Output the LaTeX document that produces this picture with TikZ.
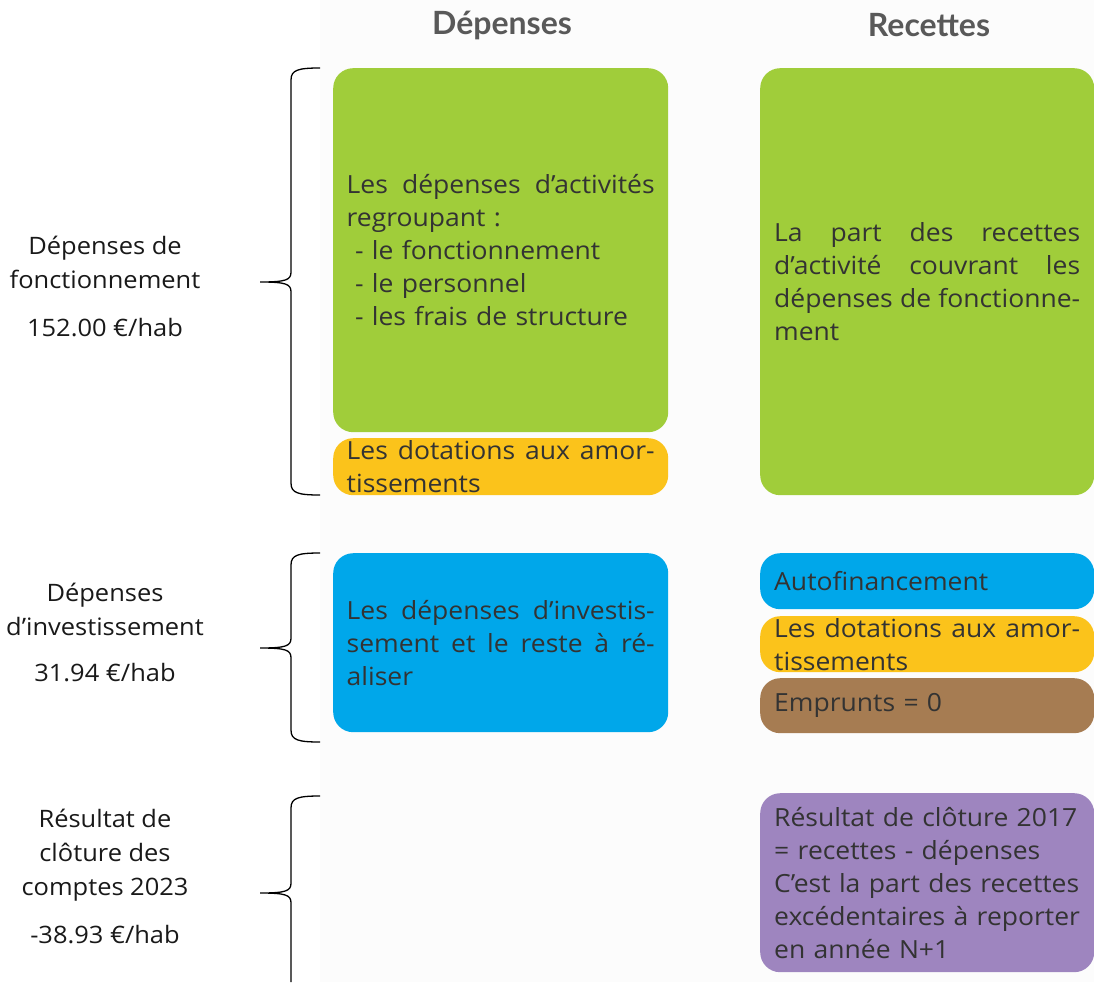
\documentclass[tikz,border=0pt]{standalone}
\usepackage{fontspec}
\setmainfont[FakeStretch=1.06]{Open Sans}
\newfontfamily\headfont{Lato}
\definecolor{cgreen}{HTML}{A0CD3A}
\definecolor{cyellow}{HTML}{FBC31B}
\definecolor{cblue}{HTML}{00A7EA}
\definecolor{cbrown}{HTML}{A67C52}
\definecolor{cpurple}{HTML}{9E85BF}
\definecolor{ctext}{HTML}{333333}
\definecolor{chead}{HTML}{595959}
\definecolor{cpanel}{HTML}{FCFCFC}
\newcommand\jl[2][308pt]{\makebox[#1][s]{\spaceskip=0pt\xspaceskip=0pt #2}}
\newcommand\nl[1]{\mbox{#1}}
\tikzset{
  box/.style={rounded corners=20pt, inner xsep=13.5pt, inner ysep=0pt, text width=308pt,
    align=left, text=ctext, font=\fontsize{25}{33}\selectfont, anchor=north west},
  rbox/.style={box, inner xsep=14pt, text width=306pt, minimum width=334pt},
  head/.style={text=chead, font=\headfont\bfseries\fontsize{32}{36}\selectfont},
  lab/.style={align=center, text=black!90, font=\fontsize{24}{34}\selectfont},
  brace/.style={line width=1.3pt, black},
}
\newcommand\brc[3]{\draw[brace] (320,#1) .. controls (298,#1) and (291,#1+2) .. (291,#1+12) -- (291,#2-10) .. controls (291,#2-2) and (286,#2) .. (260,#2) .. controls (286,#2) and (291,#2+2) .. (291,#2+10) -- (291,#3-12) .. controls (291,#3-2) and (298,#3) .. (320,#3);}
\begin{document}
\begin{tikzpicture}[x=1pt,y=-1pt]
\useasboundingbox (0,0) rectangle (1094,982);
\fill[cpanel] (320,0) rectangle (1094,982);
% headers
\node[head] (hd) at (502,25) {Dépenses};
\node[head] (hr) at (929,25) {Recettes};
% left column boxes
\node[box, fill=cgreen, minimum width=335pt, minimum height=364pt] (g1) at (333,68)
  {\jl{Les dépenses d’activités}\\ \nl{regroupant :}\\ \nl{\ - le fonctionnement}\\ \nl{\ - le personnel}\\ \nl{\ - les frais de structure}};
\node[box, fill=cyellow, minimum width=335pt, minimum height=57pt] (y1) at (333,438)
  {\jl{Les dotations aux amor-}\\ \nl{tissements}};
\node[box, fill=cblue, minimum width=335pt, minimum height=179pt] (b1) at (333,553)
  {\jl{Les dépenses d’investis-}\\ \jl{sement et le reste à ré-}\\ \nl{aliser}};
% right column boxes
\node[rbox, fill=cgreen, minimum height=427pt] (g2) at (760,68)
  {\jl[306pt]{La part des recettes}\\ \jl[306pt]{d’activité couvrant les}\\ \jl[306pt]{dépenses de fonctionne-}\\ \nl{ment}};
\node[rbox, fill=cblue, minimum height=56pt] (b2) at (760,553)
  {\nl{Autofinancement}};
\node[rbox, fill=cyellow, minimum height=56pt] (y2) at (760,616)
  {\jl[306pt]{Les dotations aux amor-}\\ \nl{tissements}};
\node[rbox, fill=cbrown, minimum height=55pt] (br) at (760,678)
  {\nl{Emprunts = 0}};
\node[rbox, fill=cpurple, minimum height=179pt] (p1) at (760,793)
  {\nl{Résultat de clôture 2017}\\ \nl{= recettes - dépenses}\\ \nl{C’est la part des recettes}\\ \nl{excédentaires à reporter}\\ \nl{en année N+1}};
% left labels
\node[lab] (l1) at (105,262) {Dépenses de\\ fonctionnement};
\node[lab] (a1) at (105,328) {152.00 €/hab};
\node[lab] (l2) at (105,609) {Dépenses\\ d’investissement};
\node[lab] (a2) at (105,673) {31.94 €/hab};
\node[lab] (l3) at (105,855) {Résultat de\\ clôture des\\ comptes 2023};
\node[lab] (a3) at (105,935) {-38.93 €/hab};
% braces
\brc{68}{282}{495}
\brc{553}{648}{742}
\draw[brace] (320,796) .. controls (298,796) and (291,798) .. (291,808) -- (291,883) .. controls (291,891) and (286,893) .. (260,893) .. controls (286,893) and (291,895) .. (291,903) -- (291,982);
\end{tikzpicture}
\end{document}
